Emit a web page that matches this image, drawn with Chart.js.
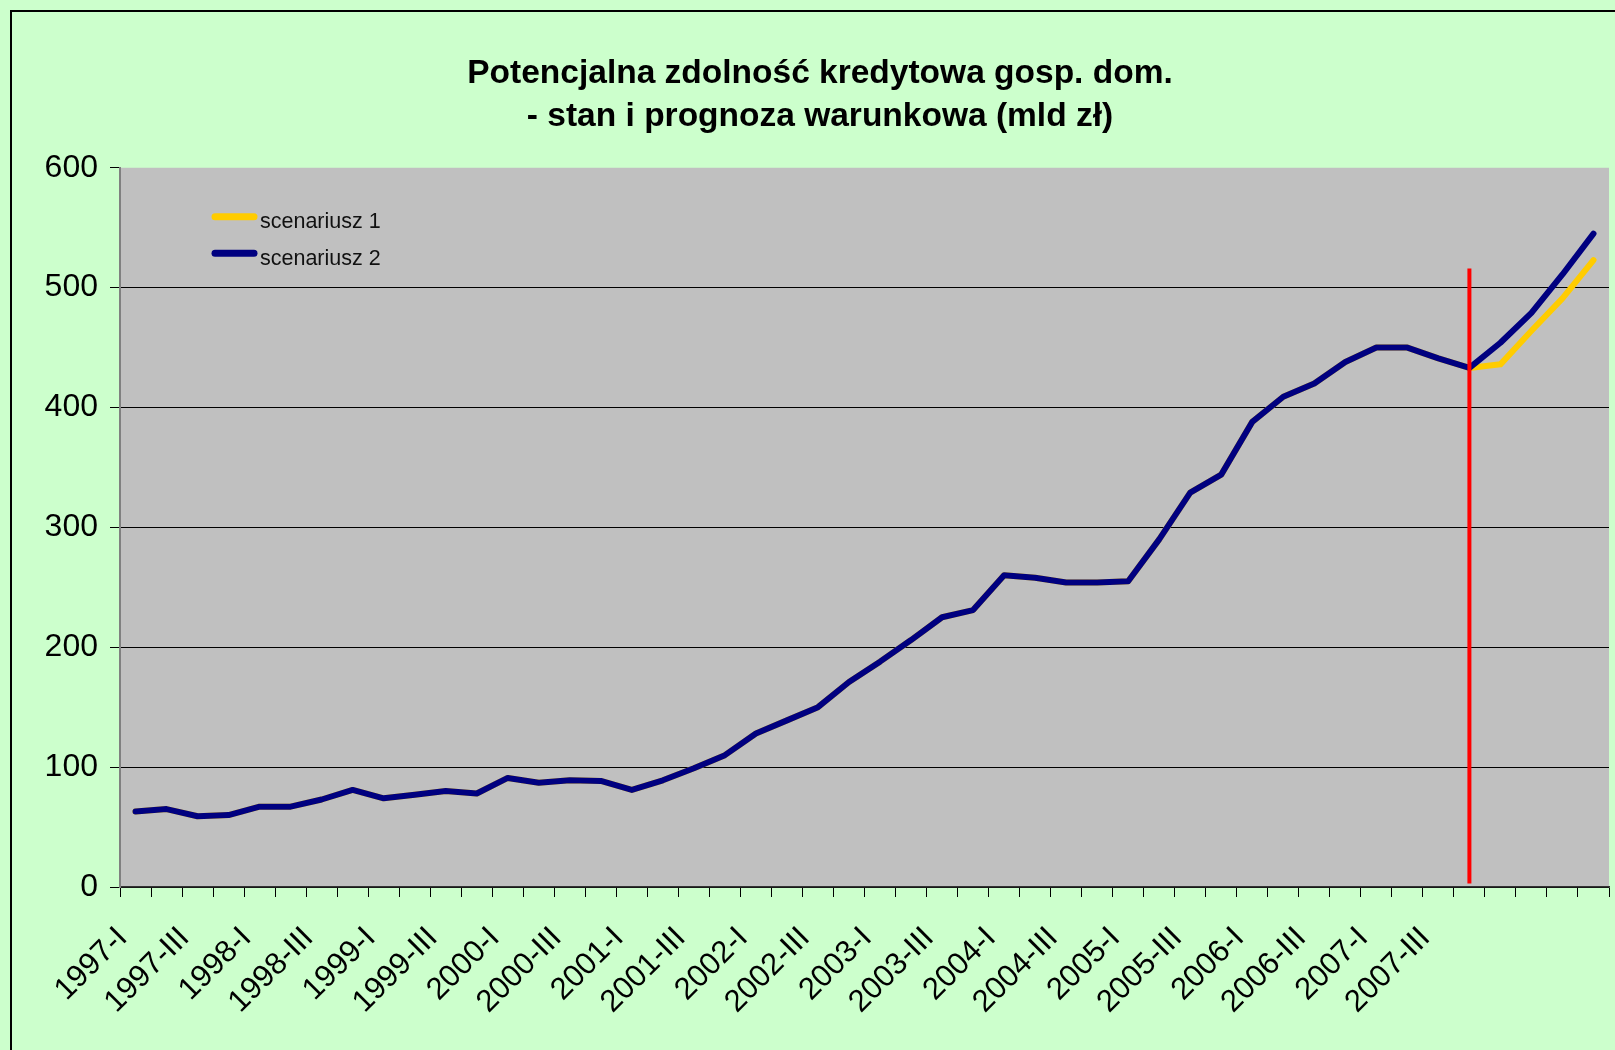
<!DOCTYPE html>
<html lang="pl">
<head>
    <meta charset="UTF-8">
    <title>Potencjalna zdolność kredytowa gosp. dom.</title>
    <script src="https://cdn.jsdelivr.net/npm/chart.js"></script>
    <style>
        html, body {
            margin: 0;
            padding: 0;
            background-color: #ccffcc; /* jasnozielone tlo wykresu */
            overflow: hidden;
        }
        .ramka {
            position: absolute;
            left: 10px;
            top: 10px;
            width: 1640px;
            height: 1080px;
            border-left: 2px solid #000;
            border-top: 2px solid #000;
        }
        .ramka canvas {
            display: block;
        }
    </style>
</head>
<body>
    <div class="ramka">
        <canvas id="wykres" width="1620" height="1050"></canvas>
    </div>

    <script>
        // Kwartaly 1997-I .. 2008-IV
        const kwartaly = [
            '1997-I', '1997-II', '1997-III', '1997-IV',
            '1998-I', '1998-II', '1998-III', '1998-IV',
            '1999-I', '1999-II', '1999-III', '1999-IV',
            '2000-I', '2000-II', '2000-III', '2000-IV',
            '2001-I', '2001-II', '2001-III', '2001-IV',
            '2002-I', '2002-II', '2002-III', '2002-IV',
            '2003-I', '2003-II', '2003-III', '2003-IV',
            '2004-I', '2004-II', '2004-III', '2004-IV',
            '2005-I', '2005-II', '2005-III', '2005-IV',
            '2006-I', '2006-II', '2006-III', '2006-IV',
            '2007-I', '2007-II', '2007-III', '2007-IV',
            '2008-I', '2008-II', '2008-III', '2008-IV'
        ];

        // Etykiety widoczne na osi X
        const etykietyOsiX = [
            '1997-I', '1997-III', '1998-I', '1998-III', '1999-I', '1999-III',
            '2000-I', '2000-III', '2001-I', '2001-III', '2002-I', '2002-III',
            '2003-I', '2003-III', '2004-I', '2004-III', '2005-I', '2005-III',
            '2006-I', '2006-III', '2007-I', '2007-III'
        ];

        // Stan (1997-I .. 2007-IV), mld zl - wspolny dla obu scenariuszy
        const historia = [
            63, 65, 59, 60, 67, 67, 73, 81, 74, 77, 80, 78,
            91, 87, 89, 88.5, 81, 89, 99, 110, 128, 139, 150, 171,
            188, 206, 225, 231, 260, 258, 254, 254, 255, 290, 329, 344,
            388, 409, 420, 438, 450, 450, 441, 433
        ];

        // Prognoza warunkowa 2008-I .. 2008-IV
        const prognoza1 = [436, 464, 491, 523];
        const prognoza2 = [454, 479, 511, 545];

        // Pionowa linia oddzielajaca stan od prognozy
        const granicaKwartal = '2007-IV';
        const granicaZakres = [3, 516];

        // Os Y
        const osYMin = 0;
        const osYMax = 600;
        const osYKrok = 100;

        const scenariusz1 = historia.concat(prognoza1);
        const scenariusz2 = historia.concat(prognoza2);

        const czcionka = '"Liberation Sans", Arial, sans-serif';
        Chart.defaults.font.family = czcionka;
        Chart.defaults.color = '#000';

        // Szare tlo obszaru wykresu
        const tloObszaru = {
            id: 'tloObszaru',
            beforeDraw(chart) {
                const { ctx, chartArea } = chart;
                ctx.save();
                ctx.fillStyle = '#c0c0c0';
                ctx.fillRect(chartArea.left, chartArea.top, chartArea.width, chartArea.height);
                ctx.restore();
            }
        };

        // Legenda wewnatrz obszaru wykresu (lewy gorny rog)
        const legendaWPolu = {
            id: 'legendaWPolu',
            afterDatasetsDraw(chart) {
                const { ctx, chartArea } = chart;
                const pozycje = chart.data.datasets
                    .filter(d => d.wLegendzie)
                    .sort((a, b) => a.wLegendzie - b.wLegendzie);
                ctx.save();
                ctx.font = '21.5px ' + czcionka;
                ctx.textBaseline = 'alphabetic';
                pozycje.forEach((ds, i) => {
                    const x = chartArea.left + 92;
                    const y = chartArea.top + 49 + i * 36.6;
                    ctx.strokeStyle = ds.borderColor;
                    ctx.lineWidth = 7;
                    ctx.lineCap = 'round';
                    ctx.beginPath();
                    ctx.moveTo(x + 3, y);
                    ctx.lineTo(x + 42, y);
                    ctx.stroke();
                    ctx.fillStyle = '#111';
                    ctx.fillText(ds.label, x + 48, y + 11.3);
                });
                ctx.restore();
            }
        };

        const linia = {
            pointRadius: 0,
            borderWidth: 6,
            borderCapStyle: 'round',
            borderJoinStyle: 'round',
            tension: 0,
            fill: false
        };

        new Chart(document.getElementById('wykres').getContext('2d'), {
            type: 'line',
            data: {
                labels: kwartaly,
                datasets: [
                    {
                        label: 'granica',
                        data: [
                            { x: granicaKwartal, y: granicaZakres[0] },
                            { x: granicaKwartal, y: granicaZakres[1] }
                        ],
                        borderColor: '#ff0000',
                        borderWidth: 4,
                        borderCapStyle: 'butt',
                        pointRadius: 0
                    },
                    Object.assign({ label: 'scenariusz 2', data: scenariusz2, borderColor: '#000080', wLegendzie: 2 }, linia),
                    Object.assign({ label: 'scenariusz 1', data: scenariusz1, borderColor: '#ffcc00', wLegendzie: 1 }, linia)
                ]
            },
            options: {
                responsive: false,
                animation: false,
                layout: { padding: { left: 19, right: 23, top: 0, bottom: 0 } },
                plugins: {
                    legend: { display: false },
                    tooltip: { enabled: false },
                    title: {
                        display: true,
                        text: ['Potencjalna zdolność kredytowa gosp. dom.', '- stan i prognoza warunkowa (mld zł)'],
                        color: '#000',
                        font: { size: 33.5, weight: 'bold', lineHeight: 1.28 },
                        padding: { top: 40, bottom: 30 }
                    }
                },
                scales: {
                    x: {
                        offset: true,
                        grid: { offset: true, drawOnChartArea: false, tickLength: 10, color: '#000' },
                        border: { color: '#333', width: 1.5 },
                        ticks: {
                            autoSkip: false,
                            maxRotation: 45,
                            minRotation: 45,
                            padding: 23,
                            labelOffset: -13,
                            color: '#000',
                            font: { size: 31 },
                            callback: function (value) {
                                const k = this.getLabelForValue(value);
                                return etykietyOsiX.includes(k) ? k : '';
                            }
                        },
                        afterFit(s) {
                            s.height = 175;
                            s.paddingRight = 0;
                        }
                    },
                    y: {
                        min: osYMin,
                        max: osYMax,
                        ticks: { stepSize: osYKrok, padding: 12, color: '#000', font: { size: 32 } },
                        grid: {
                            color: c => (c.tick && c.tick.value === osYMax) ? 'rgba(0,0,0,0)' : '#000',
                            tickColor: '#000',
                            tickLength: 10,
                            lineWidth: 1
                        },
                        border: { color: '#808080', width: 2 },
                        afterFit(s) { s.width = 89; }
                    }
                }
            },
            plugins: [tloObszaru, legendaWPolu]
        });
    </script>
</body>
</html>
